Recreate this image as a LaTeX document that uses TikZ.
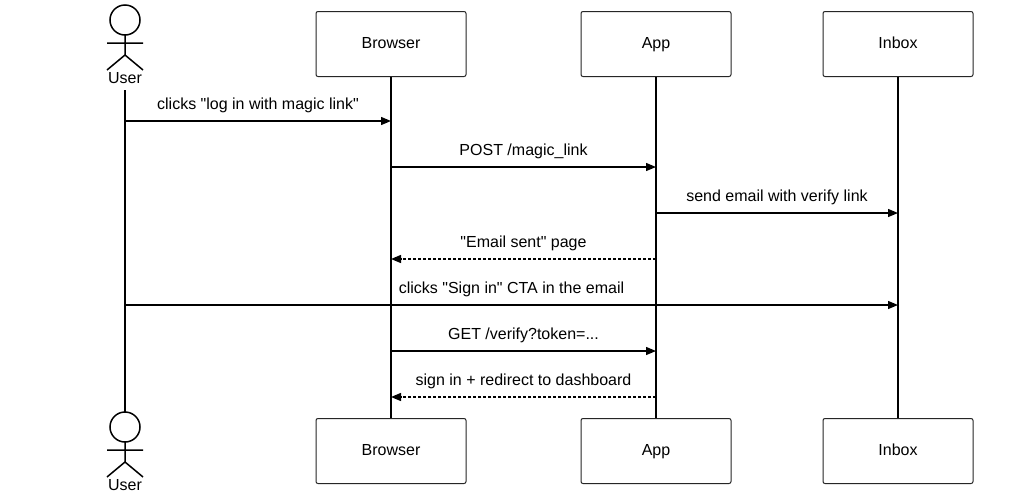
\documentclass[tikz,border=0pt]{standalone}
\usepackage{fontspec}
\setmainfont{Liberation Sans}[Ligatures=TeXOff]
\usetikzlibrary{arrows.meta}
\newcommand\qq{"}
\begin{document}
\begin{tikzpicture}[x=1pt,y=-1pt,
  box/.style={draw=black!85,line width=1pt,rounded corners=2pt,minimum width=150pt,minimum height=65pt,inner sep=0pt,text height=11.5pt,text depth=3pt,font=\fontsize{16}{18}\selectfont},
  life/.style={line width=1.5pt},
  msg/.style={line width=1.3pt,-{Triangle[length=10pt,width=8pt]}},
  ret/.style={msg,dash pattern=on 3pt off 2pt},
  lbl/.style={font=\fontsize{16}{18}\selectfont,inner sep=0pt,text height=11.5pt,text depth=3pt},
  act/.style={line width=1.5pt}]
\useasboundingbox (0,0) rectangle (1023,493);
\fill[white] (0,0) rectangle (1023,493);
% boxes
\node[box] (bt) at (391,44) {Browser};
\node[box] (at) at (656,44) {App};
\node[box] (it) at (898,44) {Inbox};
\node[box] (bb) at (391,451) {Browser};
\node[box] (ab) at (656,451) {App};
\node[box] (ib) at (898,451) {Inbox};
% actors
\foreach \y in {0,407}{
  \begin{scope}[yshift=-\y pt]
  \draw[act] (125,20) circle (15);
  \draw[act] (125,35) -- (125,55) (107,43) -- (143,43) (107,70) -- (125,55) -- (143,70);
  \end{scope}}
\node[lbl] (ut) at (125,79.5) {User};
\node[lbl] (ub) at (125,486.5) {User};
\coordinate (uA) at (125,90);
\coordinate (uB) at (125,412);
% lifelines
\draw[life] (uA) -- (uB);
\draw[life] (bt.south) -- (bb.north);
\draw[life] (at.south) -- (ab.north);
\draw[life] (it.south) -- (ib.north);
% messages
\foreach \y/\a/\b/\s/\t in {
 121/125/391/msg/{clicks \qq log in with magic link\qq},
 167/391/656/msg/{POST /magic\_link},
 213/656/898/msg/{send email with verify link},
 259/656/391/ret/{\qq Email sent\qq\ page},
 305/125/898/msg/{clicks \qq Sign in\qq\ CTA in the email},
 351/391/656/msg/{GET /verify?token=...},
 397/656/391/ret/{sign in + redirect to dashboard}}{
  \coordinate (s) at (\a,\y); \coordinate (e) at (\b,\y);
  \draw[\s] (s) -- (e);
  \node[lbl] at ({(\a+\b)/2},\y-15.5) {\t};
}
\end{tikzpicture}
\end{document}
